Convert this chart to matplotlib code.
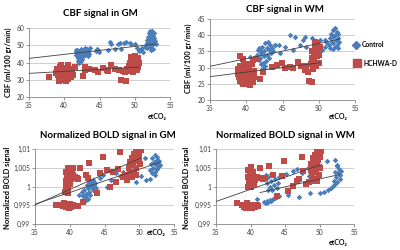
import matplotlib
matplotlib.use("Agg")
import matplotlib.pyplot as plt

plt.rcParams["font.family"] = ["Lato", "DejaVu Sans"]

BLUE = "#4a7ebb"
RED = "#be4b48"

# CBF signal in GM
gm_cbf_ctrl_x = [41.6, 41.7, 41.8, 41.9, 42.0, 42.0, 42.1, 42.2, 42.3, 42.4, 42.5, 42.5, 42.6, 42.7, 42.8,
                 42.9, 43.0, 43.0, 43.1, 43.2, 43.3, 43.4, 43.5, 43.6, 42.2, 41.9, 42.4, 42.8, 43.3, 41.6,
                 44.5, 44.6, 44.8, 44.9, 46.2, 46.5, 46.7, 47.2, 47.6, 47.9, 48.1, 48.5, 48.7, 49.3, 49.5,
                 50.0, 50.3, 50.6, 50.8, 51.0, 51.2, 51.4,
                 51.6, 51.7, 51.8, 51.9, 52.0, 52.0, 52.1, 52.2, 52.2, 52.3, 52.4, 52.4, 52.5, 52.6, 52.6,
                 52.7, 52.8, 52.8, 52.9, 53.0, 52.1, 51.8, 52.3, 52.5]
gm_cbf_ctrl_y = [44.5, 46, 47.5, 45, 43, 41, 39.5, 44, 46.5, 48, 42, 45, 47, 43.5, 46,
                 48.5, 44.5, 47, 45.5, 48, 46, 47.5, 45, 48.5, 40.5, 42.5, 41, 44.5, 43.5, 47,
                 46.5, 48, 47.5, 46, 47.2, 52, 50.5, 47.6, 51, 51.2, 47.6, 51.5, 52, 51.5, 50.8,
                 50.7, 48.5, 46.5, 47.5, 48.5, 46, 49,
                 50, 48.5, 53, 55, 57, 51, 49, 58, 54, 52, 56, 50, 53.5, 55.5, 48,
                 51.5, 54, 57, 52.5, 50.5, 53, 51.5, 47.5, 58.5]
gm_cbf_pat_x = [37.8,
                38.9, 39.0, 39.1, 39.2, 39.3, 39.4, 39.5, 39.5, 39.6, 39.7, 39.8, 39.9, 40.0, 40.0, 40.1,
                40.2, 40.3, 40.4, 40.5, 40.6, 40.7, 40.8, 40.9, 41.0, 41.1, 39.3, 39.7, 40.5, 41.2, 40.1,
                41.5, 42.7, 42.9, 42.9, 43.5, 44.4, 44.8, 45.5, 46.0, 46.2, 46.7, 47.2, 47.7, 48.1, 48.8,
                48.6, 48.9, 48.3,
                49.1, 49.2, 49.3, 49.4, 49.5, 49.6, 49.7, 49.8, 49.9, 50.0, 50.1, 50.2, 50.3, 50.4, 50.5,
                50.0, 49.7, 49.4, 50.6]
gm_cbf_pat_y = [31.5,
                34, 36, 32.5, 35, 33, 37.5, 38.5, 31, 34.5, 36.5, 30, 33.5, 35.5, 31.5, 37,
                29.5, 34, 32, 36, 30.5, 33, 35, 31.5, 34, 36, 29.5, 32, 38.5, 32.5, 30.5,
                37.6, 32, 37.6, 35.5, 36.5, 35.7, 34.7, 36.6, 35.7, 35.0, 38.6, 36.0, 35.7, 29.9, 29.5,
                34.7, 36.0, 35.2,
                36, 38, 40, 35, 37.5, 42, 39, 36.5, 41, 43.5, 38, 40.5, 35.5, 42.5, 37.5,
                44, 34.5, 43, 39.5]
gm_cbf_trend_ctrl_x = [35, 53.0]
gm_cbf_trend_ctrl_y = [42.4, 50.7]
gm_cbf_trend_pat_x = [35, 50.6]
gm_cbf_trend_pat_y = [33.7, 37.3]

# CBF signal in WM
wm_cbf_ctrl_x = [40.5,
                 41.5, 41.6, 41.7, 41.8, 41.9, 42.0, 42.1, 42.2, 42.3, 42.4, 42.5, 42.6, 42.7, 42.8, 42.9,
                 43.0, 43.1, 43.2, 43.3, 43.4, 43.5, 43.7, 43.9, 42.3, 42.0, 42.6,
                 44.0, 44.5, 44.7, 45.3, 46.0, 46.5, 46.7, 47.4, 47.8, 48.1, 48.3, 49.0, 49.3, 50.2, 50.4,
                 50.9, 50.8, 51.2,
                 51.4, 51.5, 51.6, 51.7, 51.8, 51.9, 52.0, 52.0, 52.1, 52.2, 52.3, 52.4, 52.5, 52.5, 52.6,
                 52.7, 52.8, 52.3, 51.9, 52.6]
wm_cbf_ctrl_y = [33.4,
                 34, 35.5, 32.5, 36, 33, 31, 34.5, 36.5, 30, 33.5, 35, 37.5, 32, 34, 36,
                 38, 33, 35.5, 37, 34.5, 36, 35, 37, 31.5, 35, 30.5,
                 37, 37, 34.5, 36.5, 40.1, 35.4, 39.5, 37, 38.5, 39.5, 36.5, 39.0, 37.5, 38.5, 35.4,
                 38.5, 36.5, 37.5,
                 37, 39, 36, 40.5, 38, 41.5, 37.5, 39.5, 42, 36.5, 40, 38.5, 41, 37, 39,
                 36, 38, 42.3, 35.8, 40.5]
wm_cbf_pat_x = [39.1, 39.5,
                38.8, 38.9, 39.0, 39.1, 39.2, 39.3, 39.4, 39.5, 39.6, 39.7, 39.8, 39.9, 40.0, 40.1, 40.2,
                40.3, 40.4, 40.5, 40.6, 40.7, 40.8, 40.9, 41.0, 41.1, 39.6, 40.0,
                40.9, 41.3, 42.3, 41.9, 43.5, 44.2, 44.9, 45.3, 46.0, 46.5, 47.2, 47.5, 48.1, 48.5, 48.3,
                48.6, 49.0,
                48.9, 49.0, 49.1, 49.2, 49.3, 49.4, 49.5, 49.6, 49.7, 49.8, 49.9, 50.0, 50.1, 50.2, 49.5,
                49.2]
wm_cbf_pat_y = [33.7, 32.8,
                28, 29.5, 27, 30.5, 26, 28.5, 25.5, 29.5, 27, 30.8, 25, 28, 26.5, 29.5, 24.8,
                27.5, 30, 24.5, 26, 28.5, 31, 25.5, 29, 27, 24.8, 31.2,
                32.3, 32.8, 28.7, 26.4, 30.3, 30.8, 31.3, 29.8, 30.3, 30.0, 31.8, 30.5, 29.3, 28.5, 30.5,
                25.9, 25.5,
                31, 33, 35, 29.5, 32, 34, 36, 30.5, 33.5, 37.5, 35, 31.5, 34, 36.5, 38,
                30.8]
wm_cbf_trend_ctrl_x = [35, 52.9]
wm_cbf_trend_ctrl_y = [30.4, 38.8]
wm_cbf_trend_pat_x = [35, 50.2]
wm_cbf_trend_pat_y = [27.2, 31.5]

# Normalized BOLD signal in GM
gm_bold_ctrl_x = [41.4,
                  41.8, 41.9, 42.0, 42.2, 42.1, 42.3, 42.4, 42.5, 42.6, 42.7, 42.8, 42.9, 43.0, 43.1, 43.2,
                  43.3, 43.4, 43.5, 43.6, 43.8, 42.6, 42.9,
                  44.3, 44.8, 45.3, 46.0, 46.7, 47.2, 47.7, 48.4, 48.6, 49.2, 49.6, 50.2, 50.8, 51.0, 51.5,
                  51.6, 51.7, 51.8, 51.9, 52.0, 52.1, 52.2, 52.3, 52.4, 52.5, 52.6, 52.7, 52.8, 52.9, 53.0,
                  52.2, 52.5]
gm_bold_ctrl_y = [0.9978,
                  0.9985, 0.9975, 0.9968, 0.9962, 0.9990, 0.9980, 0.9972, 1.0005, 0.9995, 1.0012, 0.9985,
                  1.0002, 1.0015, 0.9998, 1.0008, 0.9990, 1.0018, 1.0003, 1.0010, 0.9995, 0.9966, 0.9978,
                  1.0022, 1.0030, 1.0000, 1.0018, 1.0036, 1.0027, 1.0040, 1.0049, 1.0027, 1.0035, 1.0013,
                  1.0028, 1.0075, 1.0017, 1.0020,
                  1.0045, 1.0060, 1.0035, 1.0075, 1.0050, 1.0065, 1.0085, 1.0040, 1.0058, 1.0070, 1.0048,
                  1.0062, 1.0055, 1.0068, 1.0058, 1.0030, 1.0080]
gm_bold_pat_x = [38.0,
                 38.8, 39.0, 39.2, 39.4, 39.6, 39.8, 40.0, 40.2, 40.4, 40.6, 40.9, 41.2, 39.3, 39.9,
                 39.3, 39.4, 39.5, 39.5, 39.6, 39.7, 39.8, 39.9, 40.0, 40.1, 40.2, 40.3, 40.4, 40.6, 40.8,
                 41.0, 41.2, 40.5, 39.7,
                 41.5, 41.9, 42.4, 42.6, 42.8, 43.9, 44.3, 44.8, 45.3, 45.8, 46.2, 46.7, 47.0, 47.2, 47.6,
                 48.0, 48.2, 48.6,
                 48.5, 48.7, 48.8, 49.0, 49.1, 49.2, 49.3, 49.4, 49.5, 49.6, 49.7, 49.8, 49.9, 50.0, 50.1,
                 50.2, 49.5, 49.0]
gm_bold_pat_y = [0.9950,
                 0.9952, 0.9948, 0.9955, 0.9945, 0.9951, 0.9947, 0.9953, 0.9945, 0.9950, 0.9947, 0.9949,
                 0.9948, 0.9950, 0.9944,
                 0.9985, 1.0000, 1.0015, 1.0040, 1.0025, 1.0050, 0.9992, 1.0032, 1.0045, 1.0008, 1.0020,
                 1.0038, 1.0050, 1.0022, 1.0025, 1.0023, 1.0020, 1.0030, 0.9982,
                 1.0050, 0.9960, 1.0031, 1.0022, 1.0062, 0.9982, 1.0035, 1.0080, 1.0044, 1.0000, 1.0040,
                 1.0013, 1.0048, 1.0091, 1.0025, 1.0030, 1.0018, 1.0040,
                 1.0050, 1.0065, 1.0030, 1.0075, 1.0058, 1.0040, 1.0088, 1.0068, 1.0095, 1.0050, 1.0082,
                 1.0100, 1.0072, 1.0090, 1.0060, 1.0098, 1.0030, 1.0025]
gm_bold_trend_ctrl_x = [35, 52.9]
gm_bold_trend_ctrl_y = [0.9953, 1.0064]
gm_bold_trend_pat_x = [35, 50.2]
gm_bold_trend_pat_y = [0.9951, 1.0076]

# Normalized BOLD signal in WM
wm_bold_ctrl_x = [40.9,
                  42.0, 42.2, 42.4, 42.6, 42.8, 43.0, 43.2, 43.5, 43.8, 44.2,
                  42.0, 42.2, 42.4, 42.6, 42.8, 43.0, 43.1, 43.3, 43.4, 43.6, 43.8, 44.0, 44.2, 43.0, 42.5,
                  45.1, 45.5, 46.1, 46.8, 47.1, 47.5, 48.3, 48.5, 48.6, 49.5, 50.0, 50.7, 51.1, 51.3, 51.6,
                  52.2, 51.9,
                  52.1, 52.3, 52.4, 52.5, 52.6, 52.7, 52.8, 52.9, 53.0, 53.1, 52.6, 52.2]
wm_bold_ctrl_y = [0.9966,
                  0.9960, 0.9957, 0.9962, 0.9958, 0.9965, 0.9962, 0.9968, 0.9970, 0.9973, 0.9975,
                  1.0020, 1.0030, 1.0010, 1.0025, 1.0000, 1.0015, 0.9992, 1.0030, 1.0005, 1.0020, 0.9995,
                  1.0010, 1.0025, 1.0033, 0.9990,
                  1.0033, 0.9977, 1.0042, 1.0046, 0.9971, 1.0037, 1.0050, 1.0028, 0.9984, 1.0037, 0.9984,
                  0.9985, 1.0068, 0.9990, 0.9995, 1.0070, 1.0002,
                  1.0015, 1.0040, 1.0025, 1.0055, 1.0011, 1.0035, 1.0048, 1.0020, 1.0030, 1.0042, 1.0058,
                  1.0008]
wm_bold_pat_x = [38.0,
                 38.8, 39.0, 39.2, 39.4, 39.6, 39.8, 40.0, 40.2, 40.4, 40.6, 40.9, 41.1, 39.5,
                 39.6, 39.7, 39.7, 39.8, 39.9, 40.0, 40.1, 40.2, 40.3, 40.4, 40.5, 40.6,
                 40.9, 41.2, 41.5, 41.8, 42.1,
                 41.4, 42.7, 43.3, 43.9, 44.5, 44.8, 45.5, 46.2, 46.7, 47.0, 47.4, 47.6, 48.1, 48.5, 49.1,
                 48.7, 48.8, 48.9, 49.0, 49.2, 49.3, 49.4, 49.5, 49.6, 49.7, 49.8, 49.9, 50.0, 50.1, 50.2,
                 49.6]
wm_bold_pat_y = [0.9955,
                 0.9950, 0.9945, 0.9952, 0.9943, 0.9949, 0.9946, 0.9951, 0.9944, 0.9948, 0.9946, 0.9950,
                 0.9947, 0.9955,
                 1.0000, 1.0025, 1.0045, 1.0010, 1.0035, 1.0052, 0.9998, 1.0020, 1.0040, 1.0028, 1.0008,
                 1.0018,
                 1.0025, 1.0022, 1.0024, 1.0021, 1.0023,
                 1.0050, 1.0055, 1.0030, 0.9975, 1.0028, 1.0068, 0.9988, 1.0002, 1.0015, 1.0020, 1.0080,
                 1.0042, 1.0006, 1.0012, 1.0015,
                 1.0045, 1.0060, 1.0030, 1.0075, 1.0020, 1.0065, 1.0085, 1.0040, 1.0055, 1.0092, 1.0070,
                 1.0030, 1.0080, 1.0050, 1.0095, 1.0015]
wm_bold_trend_ctrl_x = [41.4, 52.9]
wm_bold_trend_ctrl_y = [0.9984, 1.0032]
wm_bold_trend_pat_x = [35, 50.3]
wm_bold_trend_pat_y = [0.9960, 1.0059]

x_ticks = [35, 40, 45, 50, 55]
cbf_gm_ticks = [20, 30, 40, 50, 60]
cbf_wm_ticks = [20, 25, 30, 35, 40, 45]
bold_ticks = [0.99, 0.995, 1.0, 1.005, 1.01]
bold_labels = ["0,99", "0,995", "1", "1,005", "1,01"]
legend_names = ["Control", "HCHWA-D"]

W, H = 400, 250
fig = plt.figure(figsize=(4, 2.5), dpi=100)


def px_axes(l, t, r, b):
    return fig.add_axes([l / W, 1 - b / H, (r - l) / W, (b - t) / H])


def style(ax, yticks, ylabels=None):
    ax.set_xlim(35, 55)
    ax.set_ylim(yticks[0], yticks[-1])
    ax.set_xticks(x_ticks)
    ax.set_yticks(yticks)
    if ylabels:
        ax.set_yticklabels(ylabels)
    for s in ["top", "right"]:
        ax.spines[s].set_visible(False)
    for s in ["left", "bottom"]:
        ax.spines[s].set_color("#868686")
        ax.spines[s].set_linewidth(0.6)
    ax.tick_params(labelsize=4.8, colors="#868686", labelcolor="#404040", length=2, width=0.6, pad=1.5)
    ax.grid(axis="y", color="#c8c8c8", linewidth=0.6)
    ax.set_axisbelow(True)


def draw(ax, cx, cy, px, py, tcx, tcy, tpx, tpy):
    ax.scatter(cx, cy, marker="D", s=8, color=BLUE, linewidths=0, zorder=3)
    ax.scatter(px, py, marker="s", s=15, color=RED, linewidths=0, zorder=3)
    ax.plot(tcx, tcy, color="#404040", linewidth=0.6, zorder=4)
    ax.plot(tpx, tpy, color="#404040", linewidth=0.6, zorder=4)


ax1 = px_axes(29, 28, 170, 97)
draw(ax1, gm_cbf_ctrl_x, gm_cbf_ctrl_y, gm_cbf_pat_x, gm_cbf_pat_y,
     gm_cbf_trend_ctrl_x, gm_cbf_trend_ctrl_y, gm_cbf_trend_pat_x, gm_cbf_trend_pat_y)
style(ax1, cbf_gm_ticks)

ax2 = px_axes(210, 19, 355, 100)
draw(ax2, wm_cbf_ctrl_x, wm_cbf_ctrl_y, wm_cbf_pat_x, wm_cbf_pat_y,
     wm_cbf_trend_ctrl_x, wm_cbf_trend_ctrl_y, wm_cbf_trend_pat_x, wm_cbf_trend_pat_y)
style(ax2, cbf_wm_ticks)

ax3 = px_axes(35, 149, 174, 224)
draw(ax3, gm_bold_ctrl_x, gm_bold_ctrl_y, gm_bold_pat_x, gm_bold_pat_y,
     gm_bold_trend_ctrl_x, gm_bold_trend_ctrl_y, gm_bold_trend_pat_x, gm_bold_trend_pat_y)
style(ax3, bold_ticks, bold_labels)

ax4 = px_axes(216, 149, 354, 224)
draw(ax4, wm_bold_ctrl_x, wm_bold_ctrl_y, wm_bold_pat_x, wm_bold_pat_y,
     wm_bold_trend_ctrl_x, wm_bold_trend_ctrl_y, wm_bold_trend_pat_x, wm_bold_trend_pat_y)
style(ax4, bold_ticks, bold_labels)


def ftext(x, y, s, **kw):
    fig.text(x / W, 1 - y / H, s, **kw)


tk = dict(fontweight="bold", color="#000000", ha="center", va="center")
ftext(100, 13, "CBF signal in GM", fontsize=7, **tk)
ftext(285, 10, "CBF signal in WM", fontsize=7, **tk)
ftext(108, 135, "Normalized BOLD signal in GM", fontsize=7, **tk)
ftext(285, 135, "Normalized BOLD signal in WM", fontsize=7, **tk)

ftext(8, 62, "CBF (ml/100 gr/min)", fontsize=5.4, rotation=90, **tk)
ftext(188, 58, "CBF (ml/100 gr/min)", fontsize=5.4, rotation=90, **tk)
ftext(8, 188, "Normalized BOLD signal", fontsize=5.4, rotation=90, **tk)
ftext(187, 188, "Normalized BOLD signal", fontsize=5.4, rotation=90, **tk)

ftext(157, 116, "etCO₂", fontsize=5, **tk)
ftext(338, 117, "etCO₂", fontsize=5, **tk)
ftext(156, 232, "etCO₂", fontsize=5, **tk)
ftext(338, 242, "etCO₂", fontsize=5, **tk)

# legend
fig.lines.append(plt.Line2D([356 / W], [1 - 45 / H], marker="D", markersize=4, color=BLUE,
                            linestyle="none", transform=fig.transFigure))
fig.lines.append(plt.Line2D([357 / W], [1 - 63 / H], marker="s", markersize=6, color=RED,
                            linestyle="none", transform=fig.transFigure))
ftext(362, 45, legend_names[0], fontsize=4.9, fontweight="bold", ha="left", va="center")
ftext(363, 63, legend_names[1], fontsize=4.9, fontweight="bold", ha="left", va="center")

fig.savefig("out.png", dpi=100)
